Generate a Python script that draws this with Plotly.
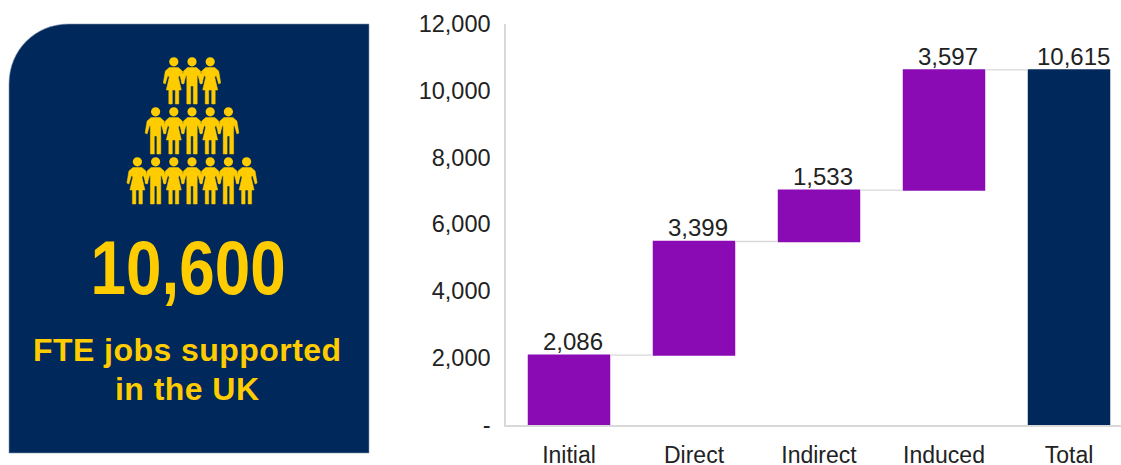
import plotly.graph_objects as go

W, H = 1121, 465
NAVY = "#00285A"
GOLD = "#FFCC00"
PURPLE = "#8A0BB4"
INK = "#222222"

# Chart data
categories = ["Initial", "Direct", "Indirect", "Induced", "Total"]
values = [2086, 3399, 1533, 3597, 10615]
measures = ["relative", "relative", "relative", "relative", "total"]
value_labels = ["2,086", "3,399", "1,533", "3,597", "10,615"]
tick_values = [0, 2000, 4000, 6000, 8000, 10000, 12000]
tick_labels = ["-", "2,000", "4,000", "6,000", "8,000", "10,000", "12,000"]

# Pictogram rows, top to bottom: F = figure in a dress, M = figure in trousers
people_rows = ["FMF", "MFMFM", "FMFMFMF"]
row_tops = [57, 107, 157]
person_step = 18.2
icon_centre = 192

# Plot area in pixels
AX_L, AX_R, AX_T, AX_B = 506, 1121, 23.5, 425

# Half of a figure's outline as (x offset from centre, y offset from top)
ARM = [(8.5, 14), (10.5, 26), (8.5, 27), (6, 18.5)]
DRESS = [(4.5, 20), (7.5, 33), (5, 33), (5, 47), (1.5, 47), (1.5, 33)]
TROUSERS = [(5.2, 19), (5.2, 47), (1.3, 47), (1.3, 29)]


def person(cx, top, kind):
    """SVG path of one figure's body, mirrored about its centre line."""
    half = ARM + (DRESS if kind == "F" else TROUSERS)
    right = [f"L{cx+dx},{top+dy}" for dx, dy in half]
    left = [f"L{cx-dx},{top+dy}" for dx, dy in reversed(half)]
    return (
        f"M{cx-4.5},{top+10.5} L{cx+4.5},{top+10.5} "
        + " ".join(right) + " " + " ".join(left) + " Z"
    )


shapes = [
    # Rounded panel behind the headline figure
    dict(
        type="path", xref="x2", yref="y2", layer="below",
        path="M9,453 L9,84 C9,50 35,24 69,24 L369,24 L369,453 Z",
        fillcolor=NAVY, line=dict(color="#7F93AD", width=0.6),
    )
]
for row, top in zip(people_rows, row_tops):
    start = icon_centre - person_step * (len(row) - 1) / 2
    for i, kind in enumerate(row):
        cx = start + i * person_step
        shapes.append(dict(
            type="path", xref="x2", yref="y2", path=person(cx, top, kind),
            fillcolor=GOLD, line=dict(color=GOLD, width=0.5),
        ))
        shapes.append(dict(
            type="circle", xref="x2", yref="y2",
            x0=cx - 4.6, x1=cx + 4.6, y0=top + 0.2, y1=top + 9.4,
            fillcolor=GOLD, line=dict(width=0),
        ))

fig = go.Figure()
fig.add_trace(go.Waterfall(
    x=categories, y=values, measure=measures,
    cliponaxis=False, width=0.66,
    increasing=dict(marker=dict(color=PURPLE, line=dict(width=0))),
    totals=dict(marker=dict(color=NAVY, line=dict(width=0))),
    connector=dict(line=dict(color="#D9D9D9", width=1.3)),
    showlegend=False, hoverinfo="x+y",
))
# Invisible pixel-scaled axes that carry the panel artwork
fig.add_trace(go.Scatter(x=[], y=[], xaxis="x2", yaxis="y2", showlegend=False))

# Value labels sit on the top edge of each bar, nudged slightly to the right
bar_tops = []
running = 0
for value, measure in zip(values, measures):
    running = running + value if measure == "relative" else value
    bar_tops.append(running)
label_annotations = [
    dict(text=label, x=cat, y=top, xref="x", yref="y", showarrow=False,
         yanchor="bottom", xshift=4, yshift=-2,
         font=dict(family="Liberation Sans", size=24, color=INK))
    for cat, top, label in zip(categories, bar_tops, value_labels)
]

px_per_cat = 125
fig.update_layout(
    width=W, height=H, margin=dict(l=0, r=0, t=0, b=0, autoexpand=False),
    paper_bgcolor="white", plot_bgcolor="rgba(0,0,0,0)",
    font=dict(family="Liberation Sans", color=INK),
    showlegend=False,
    xaxis=dict(
        domain=[AX_L / W, AX_R / W], type="category", automargin=False,
        range=[-(569 - AX_L) / px_per_cat, (AX_R - 569) / px_per_cat],
        showgrid=False, zeroline=False, showline=True,
        linecolor="#D9D9D9", linewidth=1.5,
        ticks="outside", ticklen=9, tickcolor="rgba(0,0,0,0)",
        tickfont=dict(size=23, color=INK),
    ),
    yaxis=dict(
        domain=[1 - AX_B / H, 1 - AX_T / H], range=[0, 12000], automargin=False,
        tickmode="array", tickvals=tick_values, ticktext=tick_labels,
        showgrid=False, zeroline=False, showline=True,
        linecolor="#D9D9D9", linewidth=1.5,
        ticks="outside", ticklen=9, tickcolor="rgba(0,0,0,0)",
        tickfont=dict(size=23.5, color=INK),
    ),
    xaxis2=dict(domain=[0, 1], range=[0, W], visible=False, fixedrange=True,
                anchor="y2", automargin=False),
    yaxis2=dict(domain=[0, 1], range=[H, 0], visible=False, fixedrange=True,
                anchor="x2", automargin=False),
    shapes=shapes,
    annotations=label_annotations + [
        dict(text="10,600", xref="x2", yref="y2", x=188, y=267, showarrow=False,
             font=dict(family="Liberation Sans", size=76, color=GOLD, weight="bold")),
        dict(text="FTE jobs supported", xref="x2", yref="y2", x=187, y=350, showarrow=False,
             font=dict(family="Liberation Sans", size=32, color=GOLD, weight="bold")),
        dict(text="in the UK", xref="x2", yref="y2", x=187, y=389, showarrow=False,
             font=dict(family="Liberation Sans", size=32, color=GOLD, weight="bold")),
    ],
)

# The headline number is set in a condensed cut, done by narrowing the rendered
# text; the caption lines get a little extra tracking
style_panel_text = """
var stylePanel = function () {
  document.querySelectorAll('.annotation-text').forEach(function (t) {
    if (t.textContent === '10,600') {
      t.style.transformBox = 'fill-box';
      t.style.transformOrigin = 'center';
      t.style.transform = 'scaleX(0.84)';
    } else if (t.textContent === 'FTE jobs supported' || t.textContent === 'in the UK') {
      t.style.letterSpacing = '0.45px';
    }
  });
};
stylePanel();
setTimeout(stylePanel, 0);
"""
fig.write_html("out.html", config=dict(displayModeBar=False), post_script=style_panel_text)
